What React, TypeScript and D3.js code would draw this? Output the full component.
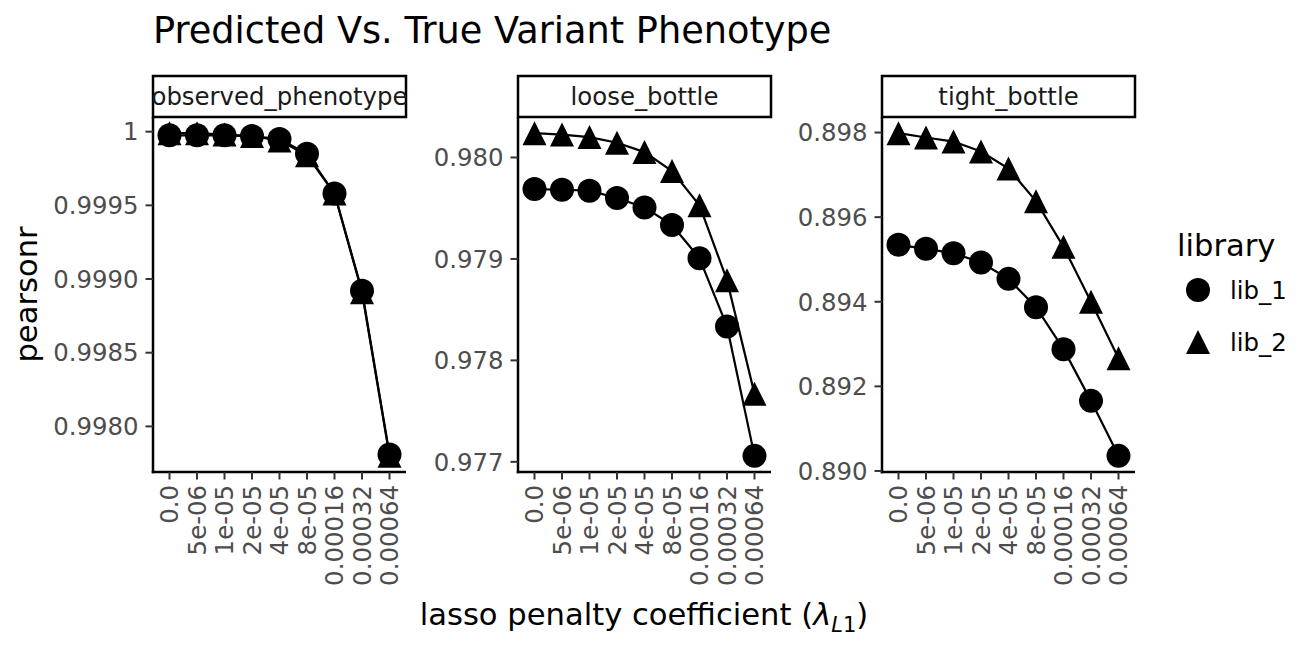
import React from "react";
import * as d3 from "d3";

const categories = ["0.0", "5e-06", "1e-05", "2e-05", "4e-05", "8e-05", "0.00016", "0.00032", "0.00064"];
const panels = ["observed_phenotype", "loose_bottle", "tight_bottle"];
const libraries = ["lib_1", "lib_2"];

const obsLib1 = [0.999975, 0.999975, 0.999975, 0.99997, 0.99995, 0.99985, 0.99958, 0.99892, 0.99781];
const obsLib2 = [0.99999, 0.99999, 0.99998, 0.99997, 0.99994, 0.99984, 0.99958, 0.99891, 0.9978];
const looseLib1 = [0.979689, 0.979682, 0.979673, 0.979601, 0.979508, 0.979335, 0.979007, 0.978335, 0.977059];
const looseLib2 = [0.98024, 0.980226, 0.980201, 0.980145, 0.980053, 0.979866, 0.979528, 0.978791, 0.97767];
const tightLib1 = [0.895345, 0.895251, 0.895149, 0.894927, 0.894541, 0.893872, 0.892879, 0.891657, 0.890357];
const tightLib2 = [0.897986, 0.897882, 0.897787, 0.897551, 0.897149, 0.896378, 0.895298, 0.893998, 0.892667];

const obsTicks = [0.998, 0.9985, 0.999, 0.9995, 1.0];
const obsTickLabels = ["0.9980", "0.9985", "0.9990", "0.9995", "1"];
const looseTicks = [0.977, 0.978, 0.979, 0.98];
const looseTickLabels = ["0.977", "0.978", "0.979", "0.980"];
const tightTicks = [0.89, 0.892, 0.894, 0.896, 0.898];
const tightTickLabels = ["0.890", "0.892", "0.894", "0.896", "0.898"];

const panelData = [
  { name: panels[0], series: [obsLib1, obsLib2], ticks: obsTicks, labels: obsTickLabels },
  { name: panels[1], series: [looseLib1, looseLib2], ticks: looseTicks, labels: looseTickLabels },
  { name: panels[2], series: [tightLib1, tightLib2], ticks: tightTicks, labels: tightTickLabels },
];

const FONT = "DejaVu Sans";
const PANEL_LEFTS = [153, 518, 882];
const PANEL_W = 253;
const TOP = 117;
const BOTTOM = 472;
const STRIP_TOP = 76;
const MS = 25; // marker size
const SMALL = 24.4;
const MID = 30.6;

function trianglePath(cx: number, cy: number, s: number) {
  const h = s / 2;
  return `M${cx},${cy - h}L${cx + h},${cy + h}L${cx - h},${cy + h}Z`;
}

function Marker({ kind, x, y }: { kind: number; x: number; y: number }) {
  if (kind === 0) return <circle cx={x} cy={y} r={MS / 2 - 0.5} fill="#000" />;
  return <path d={trianglePath(x, y, MS - 1)} fill="#000" />;
}

function Panel({ idx }: { idx: number }) {
  const p = panelData[idx];
  const left = PANEL_LEFTS[idx];
  const x = d3.scalePoint<string>().domain(categories).range([left, left + PANEL_W]).padding(0.6);
  const all = p.series.flat();
  const [mn, mx] = d3.extent(all) as [number, number];
  const pad = (mx - mn) * 0.05;
  const y = d3.scaleLinear().domain([mn - pad, mx + pad]).range([BOTTOM, TOP]);
  const line = d3
    .line<number>()
    .x((_, i) => x(categories[i]) as number)
    .y((d) => y(d));
  const drawOrder = [1, 0];
  return (
    <g>
      <rect x={left} y={STRIP_TOP} width={PANEL_W} height={TOP - STRIP_TOP} fill="#fff" stroke="#000" strokeWidth={2.5} />
      <text x={left + PANEL_W / 2} y={(STRIP_TOP + TOP) / 2} dy="0.35em" textAnchor="middle" fontFamily={FONT} fontSize={SMALL} fill="#1a1a1a">
        {p.name}
      </text>
      {drawOrder.map((s) => (
        <path key={"l" + s} d={line(p.series[s]) || ""} fill="none" stroke="#000" strokeWidth={2.2} />
      ))}
      {drawOrder.map((s) =>
        p.series[s].map((v, i) => <Marker key={s + "-" + i} kind={s} x={x(categories[i]) as number} y={y(v)} />)
      )}
      <line x1={left} x2={left} y1={TOP} y2={BOTTOM + 1.25} stroke="#000" strokeWidth={2.5} />
      <line x1={left - 1.25} x2={left + PANEL_W} y1={BOTTOM} y2={BOTTOM} stroke="#000" strokeWidth={2.5} />
      {p.ticks.map((t, i) => (
        <g key={"yt" + i}>
          <line x1={left - 7.5} x2={left} y1={y(t)} y2={y(t)} stroke="#333" strokeWidth={2} />
          <text x={left - 14.5} y={y(t)} dy="0.36em" textAnchor="end" fontFamily={FONT} fontSize={SMALL} fill="#4d4d4d">
            {p.labels[i]}
          </text>
        </g>
      ))}
      {categories.map((c) => (
        <g key={"xt" + c}>
          <line x1={x(c)} x2={x(c)} y1={BOTTOM} y2={BOTTOM + 7.5} stroke="#333" strokeWidth={2} />
          <text
            transform={`translate(${x(c)},${BOTTOM + 13}) rotate(-90)`}
            dy="0.36em"
            textAnchor="end"
            fontFamily={FONT}
            fontSize={SMALL}
            fill="#4d4d4d"
          >
            {c}
          </text>
        </g>
      ))}
    </g>
  );
}

export default function App() {
  return (
    <svg width={1300} height={660} style={{ position: "absolute", left: 0, top: 0, background: "#fff" }}>
      <rect x={0} y={0} width={1300} height={660} fill="#fff" />
      <text x={153} y={43} fontFamily={FONT} fontSize={36.7} fill="#000">
        Predicted Vs. True Variant Phenotype
      </text>
      {panelData.map((_, i) => (
        <Panel key={i} idx={i} />
      ))}
      <text transform="translate(37,294.5) rotate(-90)" textAnchor="middle" fontFamily={FONT} fontSize={MID} fill="#000">
        pearsonr
      </text>
      <text x={644} y={625} textAnchor="middle" fontFamily={FONT} fontSize={MID} fill="#000">
        lasso penalty coefficient (
        <tspan fontStyle="italic">λ</tspan>
        <tspan dy={7} fontSize={21} fontStyle="italic">L</tspan>
        <tspan fontSize={21}>1</tspan>
        <tspan dy={-7}>)</tspan>
      </text>
      <text x={1177} y={256} fontFamily={FONT} fontSize={MID} fill="#000">
        library
      </text>
      {libraries.map((lib, i) => (
        <g key={lib}>
          <Marker kind={i} x={1198} y={290 + i * 52} />
          <text x={1230} y={290 + i * 52} dy="0.36em" fontFamily={FONT} fontSize={SMALL} fill="#000">
            {lib}
          </text>
        </g>
      ))}
    </svg>
  );
}
